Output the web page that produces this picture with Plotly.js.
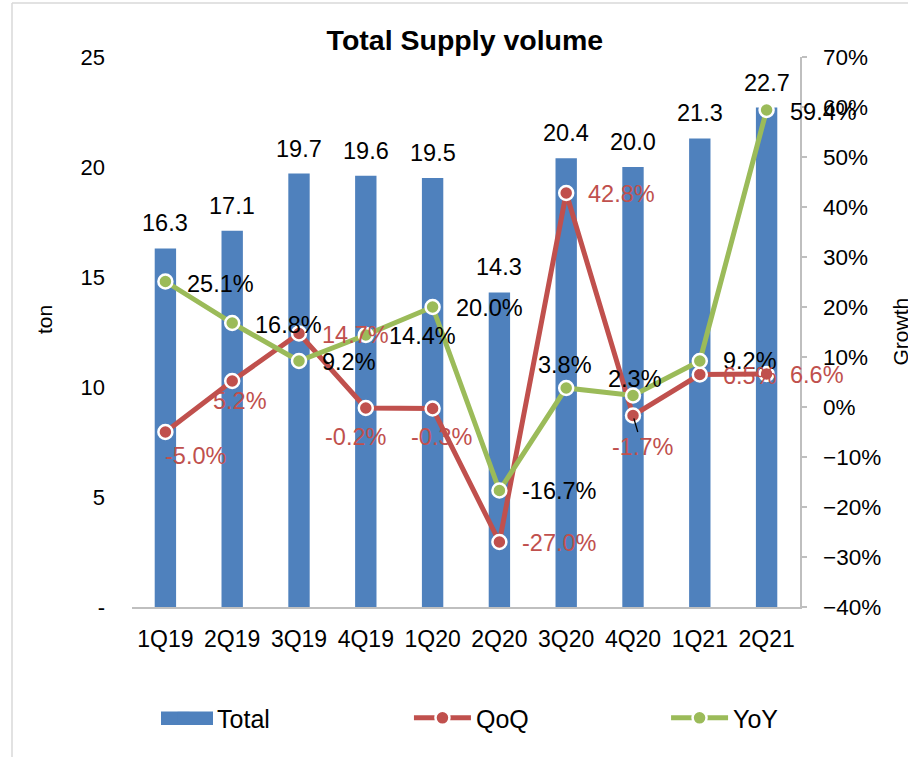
<!DOCTYPE html>
<html>
<head>
<meta charset="utf-8">
<script src="https://cdn.plot.ly/plotly-3.0.1.min.js"></script>
<style>html,body{margin:0;padding:0;background:#fff;}#chart{width:908px;height:757px;}</style>
</head>
<body>
<div id="chart"></div>
<script>
// ---- data ----
const quarters = ['1Q19','2Q19','3Q19','4Q19','1Q20','2Q20','3Q20','4Q20','1Q21','2Q21'];
const totalTon = [16.3, 17.1, 19.7, 19.6, 19.5, 14.3, 20.4, 20.0, 21.3, 22.7];
const qoqPct   = [-5.0, 5.2, 14.7, -0.2, -0.3, -27.0, 42.8, -1.7, 6.5, 6.6];
const yoyPct   = [25.1, 16.8, 9.2, 14.4, 20.0, -16.7, 3.8, 2.3, 9.2, 59.4];
const leftTickVals = [0, 5, 10, 15, 20, 25];
const leftTickText = ['-', '5', '10', '15', '20', '25'];

const FONT = 'Arial, "Liberation Sans", sans-serif';
const NARROW = '"Liberation Sans Narrow", "Arial Narrow", Arial, sans-serif';
const BLUE = '#4F81BD', RED = '#C0504D', GREEN = '#9BBB59';

// label placement styles: [xanchor, xshift, yshift(down +)]
const qoqLab = [['center',30,24],['center',8,20],['left',21,1],['center',-10,29],['center',9,28],
                ['left',21,1],['left',20,1],['center',9,31],['left',21,1],['left',21,1]];
const yoyLab = [['left',20,2],['left',21,2],['left',21,1],['left',21,1],['left',21,1],
                ['left',21,0],['center',-1,-23],['center',2,-17],['left',21,0],['left',21,2]];

const traces = [
  {
    type: 'bar', name: 'Total', x: quarters, y: totalTon,
    marker: {color: BLUE}, width: 0.32,
    legend: 'legend', hoverinfo: 'x+y'
  },
  {
    type: 'scatter', mode: 'lines+markers', name: 'QoQ', x: quarters, y: qoqPct, yaxis: 'y2',
    line: {color: RED, width: 5},
    marker: {color: RED, size: 14, line: {color: '#fff', width: 2.5}},
    cliponaxis: false, legend: 'legend2'
  },
  {
    type: 'scatter', mode: 'lines+markers', name: 'YoY', x: quarters, y: yoyPct, yaxis: 'y2',
    line: {color: GREEN, width: 5},
    marker: {color: GREEN, size: 14, line: {color: '#fff', width: 2.5}},
    cliponaxis: false, legend: 'legend3'
  }
];

const annotations = [];
quarters.forEach((q, i) => {
  annotations.push({x: q, y: totalTon[i], xref: 'x', yref: 'y', text: totalTon[i].toFixed(1),
    showarrow: false, xanchor: 'center', yanchor: 'middle', yshift: 25,
    font: {family: FONT, size: 23.5, color: '#000'}});
});
quarters.forEach((q, i) => {
  const s = yoyLab[i];
  annotations.push({x: q, y: yoyPct[i], xref: 'x', yref: 'y2', text: yoyPct[i].toFixed(1) + '%',
    showarrow: false, xanchor: s[0], yanchor: 'middle', xshift: s[1], yshift: -s[2],
    font: {family: FONT, size: 23.5, color: '#000'}});
});
quarters.forEach((q, i) => {
  const s = qoqLab[i];
  const a = {x: q, y: qoqPct[i], xref: 'x', yref: 'y2', text: qoqPct[i].toFixed(1) + '%',
    xanchor: s[0], yanchor: 'middle', font: {family: FONT, size: 23.5, color: RED}};
  if (i === 7) {
    Object.assign(a, {showarrow: true, arrowhead: 0, arrowwidth: 1.3, arrowcolor: '#000',
      ax: s[1], ay: s[2], standoff: 3, xanchor: 'center'});
  } else {
    Object.assign(a, {showarrow: false, xshift: s[1], yshift: -s[2]});
  }
  annotations.push(a);
});
annotations.push(
  {text: 'ton', xref: 'paper', yref: 'paper', x: -0.130, y: 0.522, textangle: -90,
   showarrow: false, font: {family: FONT, size: 21, color: '#000'}, xanchor: 'center', yanchor: 'middle'},
  {text: 'Growth', xref: 'paper', yref: 'paper', x: 1.149, y: 0.5, textangle: -90,
   showarrow: false, font: {family: FONT, size: 21, color: '#000'}, xanchor: 'center', yanchor: 'middle'}
);

const legendBase = {orientation: 'h', yanchor: 'middle', xanchor: 'left', y: -0.202,
  font: {family: NARROW, size: 25, color: '#000'}, bgcolor: 'rgba(0,0,0,0)', itemwidth: 57};

const layout = {
  width: 908, height: 757,
  margin: {l: 132, r: 108, t: 57, b: 150},
  paper_bgcolor: '#fff', plot_bgcolor: '#fff',
  font: {family: FONT, size: 20, color: '#000'},
  title: {text: '<b>Total Supply volume</b>', font: {family: FONT, size: 28.5, color: '#000'},
          x: 0.512, xref: 'container', xanchor: 'center', y: 0.947, yref: 'container', yanchor: 'middle'},
  xaxis: {
    type: 'category', range: [-0.5, 9.5], showgrid: false, zeroline: false,
    showline: true, linecolor: '#bfbfbf', linewidth: 1.5, ticks: '',
    tickfont: {family: NARROW, size: 23, color: '#000'}, ticklabelstandoff: 11
  },
  yaxis: {
    range: [0, 25], tickvals: leftTickVals, ticktext: leftTickText,
    showgrid: false, zeroline: false, showline: false, ticks: '',
    tickfont: {family: FONT, size: 22, color: '#000'}, ticklabelstandoff: 26
  },
  yaxis2: {
    overlaying: 'y', side: 'right', range: [-40, 70], dtick: 10, tick0: 0, ticksuffix: '%',
    showgrid: false, zeroline: false, showline: true, linecolor: '#bfbfbf', linewidth: 1.5,
    ticks: 'outside', ticklen: 5, tickcolor: '#bfbfbf', tickwidth: 1.5,
    tickfont: {family: FONT, size: 22.5, color: '#000'}, ticklabelstandoff: 12
  },
  showlegend: true,
  legend:  Object.assign({}, legendBase, {x: 0.027}),
  legend2: Object.assign({}, legendBase, {x: 0.4146}),
  legend3: Object.assign({}, legendBase, {x: 0.7995}),
  annotations: annotations,
  shapes: [
    {type: 'line', xref: 'paper', yref: 'paper', x0: (12-132)/668, x1: (12-132)/668, y0: (607-3)/550, y1: (607-757)/550,
     line: {color: '#d9d9d9', width: 1.5}},
    {type: 'line', xref: 'paper', yref: 'paper', x0: (12-132)/668, x1: (908-132)/668, y0: (607-3)/550, y1: (607-3)/550,
     line: {color: '#d9d9d9', width: 1.5}},
    {type: 'rect', xref: 'paper', yref: 'paper', x0: (161-132)/668, x1: (213-132)/668, y0: (607-711.5)/550, y1: (607-725)/550,
     fillcolor: BLUE, line: {width: 0}, layer: 'above'}
  ]
};

Plotly.newPlot('chart', traces, layout, {displayModeBar: false, staticPlot: true});
</script>
</body>
</html>
